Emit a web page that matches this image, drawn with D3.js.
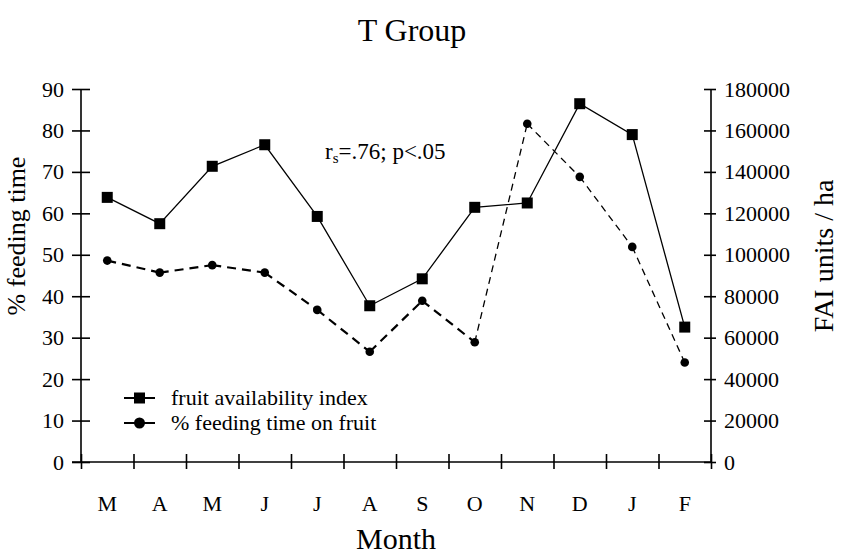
<!DOCTYPE html>
<html>
<head>
<meta charset="utf-8">
<script src="https://cdn.jsdelivr.net/npm/d3@7"></script>
<style>
  body { margin: 0; background: #fff; }
</style>
</head>
<body>
<svg id="chart" width="843" height="557"></svg>
<script>
const months = ['M', 'A', 'M', 'J', 'J', 'A', 'S', 'O', 'N', 'D', 'J', 'F']
// fruit availability index, FAI units / ha (right axis)
const fai = [127700, 115000, 142700, 153100, 118500, 75400, 88400, 122900, 125000, 172900, 158000, 65100]
// % feeding time on fruit (left axis)
const feeding = [48.6, 45.7, 47.5, 45.7, 36.7, 26.6, 38.9, 28.9, 81.6, 68.8, 51.9, 24.0]
const leftTicks = [0, 10, 20, 30, 40, 50, 60, 70, 80, 90]
const rightTicks = [0, 20000, 40000, 60000, 80000, 100000, 120000, 140000, 160000, 180000]

const FONT = '"Liberation Serif", "Times New Roman", serif'

const svg = d3.select('#chart')
const margin = {top: 89, right: 132, bottom: 95, left: 81}
const width = 843, height = 557
const innerWidth = width - margin.left - margin.right
const innerHeight = height - margin.top - margin.bottom

const g = svg.append('g')
    .attr('transform', `translate(${margin.left},${margin.top})`)

const idx = d3.range(months.length)
const xBand = d3.scaleBand().domain(idx).range([0, innerWidth])
const xEdge = d3.scaleLinear().domain([0, months.length]).range([0, innerWidth])
const yLeft = d3.scaleLinear().domain([0, 90]).range([innerHeight, 0])
const yRight = d3.scaleLinear().domain([0, 180000]).range([innerHeight, 0])
const cx = i => xBand(i) + xBand.bandwidth() / 2

// left axis
const la = g.append('g')
    .call(d3.axisLeft(yLeft).tickValues(leftTicks).tickSize(9).tickPadding(8))
la.selectAll('.tick line').attr('x1', 9)
la.select('.domain').attr('d', `M0,0V${innerHeight}`)

// right axis
const ra = g.append('g')
    .attr('transform', `translate(${innerWidth},0)`)
    .call(d3.axisRight(yRight).tickValues(rightTicks).tickSize(5).tickPadding(8).tickFormat(d3.format('d')))
ra.selectAll('.tick line').attr('x1', -7)
ra.select('.domain').attr('d', `M0,0V${innerHeight}`)

// x axis: ticks at month boundaries, labels at centers
const xa = g.append('g')
    .attr('transform', `translate(0,${innerHeight})`)
    .call(d3.axisBottom(xEdge).tickValues(d3.range(0, months.length + 1)).tickSize(7).tickFormat(''))
xa.selectAll('.tick line').attr('y1', -8)
xa.select('.domain').attr('d', `M-9,0H${innerWidth}`)

const xl = g.append('g')
    .attr('transform', `translate(0,${innerHeight})`)
    .call(d3.axisBottom(xBand).tickSize(0).tickPadding(33).tickFormat(i => months[i]))
xl.select('.domain').remove()

g.selectAll('.domain, .tick line').attr('stroke', '#000').attr('stroke-width', 1.6)
g.selectAll('.tick text')
    .attr('fill', '#000')
    .attr('font-size', 22)
    .style('font-family', FONT)

// fruit availability line (solid)
g.append('path')
    .datum(fai)
    .attr('fill', 'none')
    .attr('stroke', '#000')
    .attr('stroke-width', 1.3)
    .attr('d', d3.line().x((d, i) => cx(i)).y(d => yRight(d)))

g.selectAll('.sq')
    .data(fai)
    .join('rect')
    .attr('x', (d, i) => cx(i) - 5.5)
    .attr('y', d => yRight(d) - 5.5)
    .attr('width', 11)
    .attr('height', 11)
    .attr('fill', '#000')

// feeding time line (dashed, heavier for the first months)
const seg = d3.line().x(d => cx(d[0])).y(d => yLeft(d[1]))
for (let i = 0; i < feeding.length - 1; i++) {
    const thick = i < 7
    g.append('path')
        .datum([[i, feeding[i]], [i + 1, feeding[i + 1]]])
        .attr('fill', 'none')
        .attr('stroke', '#000')
        .attr('stroke-width', thick ? 2.2 : 1.3)
        .attr('stroke-dasharray', thick ? '9,6' : '7,5')
        .attr('d', seg)
}

g.selectAll('.dot')
    .data(feeding)
    .join('circle')
    .attr('cx', (d, i) => cx(i))
    .attr('cy', d => yLeft(d))
    .attr('r', 4.3)
    .attr('fill', '#000')

// annotation
const ann = svg.append('text')
    .attr('x', 325)
    .attr('y', 159)
    .attr('font-size', 23)
    .style('font-family', FONT)
ann.append('tspan').text('r')
ann.append('tspan').attr('font-size', 15).attr('dy', 4).text('s')
ann.append('tspan').attr('dy', -4).text('=.76; p<.05')

// legend
const legend = svg.append('g').attr('transform', 'translate(124,398)')
const items = [
    {label: 'fruit availability index', shape: 'square'},
    {label: '% feeding time on fruit', shape: 'circle'}
]
items.forEach((it, k) => {
    const row = legend.append('g').attr('transform', `translate(0,${k * 25})`)
    row.append('line').attr('x1', 0).attr('x2', 31).attr('stroke', '#000').attr('stroke-width', 2)
    if (it.shape === 'square') {
        row.append('rect').attr('x', 10).attr('y', -5.5).attr('width', 11).attr('height', 11).attr('fill', '#000')
    } else {
        row.append('circle').attr('cx', 15.5).attr('r', 5.5).attr('fill', '#000')
    }
    row.append('text')
        .attr('x', 47)
        .attr('y', 7)
        .attr('font-size', 22)
        .style('font-family', FONT)
        .text(it.label)
})

// titles
svg.append('text')
    .attr('x', 412)
    .attr('y', 41)
    .attr('text-anchor', 'middle')
    .attr('font-size', 32)
    .style('font-family', FONT)
    .text('T Group')

svg.append('text')
    .attr('x', (margin.left + width - margin.right) / 2)
    .attr('y', 549)
    .attr('text-anchor', 'middle')
    .attr('font-size', 30)
    .style('font-family', FONT)
    .text('Month')

svg.append('text')
    .attr('transform', 'translate(25,236) rotate(-90)')
    .attr('text-anchor', 'middle')
    .attr('font-size', 26)
    .style('font-family', FONT)
    .text('% feeding time')

svg.append('text')
    .attr('transform', 'translate(833,256) rotate(-90)')
    .attr('text-anchor', 'middle')
    .attr('font-size', 28)
    .style('font-family', FONT)
    .text('FAI units / ha')
</script>
</body>
</html>
